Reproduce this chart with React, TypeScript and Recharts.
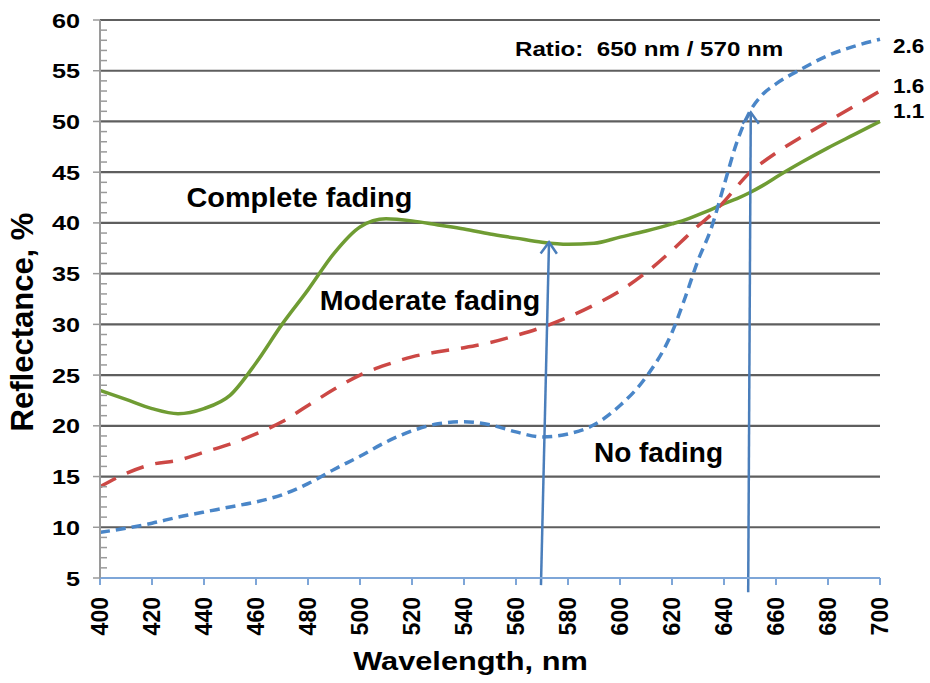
import { CartesianGrid, Label, Line, LineChart, ReferenceDot, ReferenceLine, XAxis, YAxis } from 'recharts'

const FONT = '"Liberation Sans", Arial, sans-serif'

const wavelengths = [400, 410, 420, 430, 440, 450, 460, 470, 480, 490, 500, 510, 520, 530, 540, 550, 560, 570, 580, 590, 600, 610, 620, 625, 630, 635, 640, 645, 650, 655, 660, 670, 680, 690, 700]
const completeFading = [23.5, 22.6, 21.7, 21.2, 21.7, 23.0, 26.2, 30.0, 33.4, 37.0, 39.6, 40.4, 40.2, 39.8, 39.4, 38.9, 38.5, 38.1, 37.9, 38.0, 38.6, 39.2, 39.9, 40.3, 40.8, 41.3, 41.9, 42.4, 43.0, 43.7, 44.5, 46.0, 47.4, 48.7, 50.0]
const moderateFading = [14.0, 15.3, 16.2, 16.6, 17.4, 18.2, 19.2, 20.4, 22.0, 23.6, 25.0, 26.0, 26.8, 27.3, 27.7, 28.2, 28.9, 29.7, 30.7, 31.9, 33.3, 35.1, 37.3, 38.5, 39.7, 40.8, 42.1, 43.6, 45.0, 46.0, 46.9, 48.5, 50.0, 51.5, 53.0]
const noFading = [9.5, 9.9, 10.4, 11.0, 11.5, 12.0, 12.5, 13.2, 14.3, 15.7, 17.0, 18.4, 19.5, 20.2, 20.4, 20.1, 19.4, 18.9, 19.2, 20.1, 22.0, 24.8, 29.2, 32.6, 36.3, 39.4, 43.7, 48.0, 51.0, 52.7, 53.7, 55.2, 56.5, 57.4, 58.1]

const xTicks = [400, 420, 440, 460, 480, 500, 520, 540, 560, 580, 600, 620, 640, 660, 680, 700]
const yAllTicks = Array.from({ length: 56 }, (_, i) => 5 + i)

// ratio arrows: [bottom, tip] in data units
const arrow570 = [{ x: 569.6, y: 4.3 }, { x: 572.7, y: 38.1 }]
const arrow650 = [{ x: 649.3, y: 3.6 }, { x: 650.3, y: 50.9 }]

// in-plot notes, anchored at baseline centre
const notes = [
  { text: 'Complete fading', x: 476.7, y: 41.55, size: 28, sx: 1.03 },
  { text: 'Moderate fading', x: 526.9, y: 31.4, size: 28, sx: 1.02 },
  { text: 'No fading', x: 614.8, y: 16.45, size: 28, sx: 1.0 },
  { text: 'Ratio:  650 nm / 570 nm', x: 611.2, y: 56.5, size: 21, sx: 1.15 },
]
const ratioLabels = [
  { text: '2.6', y: 56.7 },
  { text: '1.6', y: 52.8 },
  { text: '1.1', y: 50.3 },
]

const rows = wavelengths.map((wl, i) => ({ wl, complete: completeFading[i], moderate: moderateFading[i], none: noFading[i] }))

const ARROW = '#4a7ebb'
const AXIS_GRAY = '#9a9a9a'

function SText({ x, y, text, size, sx = 1, anchor = 'middle', dy }: { x: number; y: number; text: string | number; size: number; sx?: number; anchor?: string; dy?: string }) {
  return (
    <text
      transform={`translate(${x},${y}) scale(${sx},1)`}
      textAnchor={anchor as any}
      dy={dy}
      fontSize={size}
      fontWeight={700}
      fontFamily={FONT}
      fill="#000"
      style={{ whiteSpace: 'pre' }}
    >
      {text}
    </text>
  )
}

function ArrowShape(props: any) {
  const { x1, y1, x2, y2 } = props
  const ang = Math.atan2(y2 - y1, x2 - x1)
  const len = 14
  const spread = 0.62
  const ax = x2 - len * Math.cos(ang - spread)
  const ay = y2 - len * Math.sin(ang - spread)
  const bx = x2 - len * Math.cos(ang + spread)
  const by = y2 - len * Math.sin(ang + spread)
  return (
    <g>
      <line x1={x1} y1={y1} x2={x2} y2={y2} stroke={ARROW} strokeWidth={2.5} />
      <polyline points={`${ax},${ay} ${x2},${y2} ${bx},${by}`} fill="none" stroke={ARROW} strokeWidth={2.5} />
    </g>
  )
}

function XTick({ x, y, payload }: any) {
  return (
    <g transform={`translate(${x},${y})`}>
      <text transform="rotate(-90)" textAnchor="end" dy="0.36em" fontSize={23} fontWeight={700} fontFamily={FONT} fill="#000">
        {payload.value}
      </text>
    </g>
  )
}

// every integer gets a tick: majors point outwards with a label, minors point into the plot
function YTick({ x, y, payload }: any) {
  const major = payload.value % 5 === 0
  if (!major) return <line x1={x} x2={x + 7} y1={y} y2={y} stroke={AXIS_GRAY} strokeWidth={1.5} />
  return (
    <g>
      <line x1={x - 7} x2={x} y1={y} y2={y} stroke={AXIS_GRAY} strokeWidth={1.5} />
      <SText x={x - 20} y={y} text={payload.value} size={21} sx={1.2} anchor="end" dy="0.36em" />
    </g>
  )
}

// grid only on the labelled (every 5th) ticks
function GridLine(p: any) {
  if (typeof p.index === 'number' && p.index % 5 !== 0) return <g />
  return <line x1={p.x1} x2={p.x2} y1={p.y1} y2={p.y2} stroke="#5e5e5e" strokeWidth={2.2} />
}

export default function App() {
  return (
    <div style={{ position: 'absolute', left: 0, top: 0, background: '#fff' }}>
      <LineChart width={930} height={683} data={rows} margin={{ top: 20, right: 50, bottom: 0, left: 0 }}>
        <CartesianGrid vertical={false} horizontal={GridLine} />
        <XAxis
          dataKey="wl"
          type="number"
          domain={[400, 700]}
          ticks={xTicks}
          interval={0}
          height={105}
          axisLine={{ stroke: '#7ea6d8', strokeWidth: 2 }}
          tickLine={{ stroke: '#7ea6d8', strokeWidth: 2 }}
          tickSize={7}
          tickMargin={12}
          tick={<XTick />}
        >
          <Label
            content={({ viewBox }: any) => (
              <SText x={viewBox.x + viewBox.width / 2 - 19.5} y={viewBox.y + 92} text="Wavelength, nm" size={25} sx={1.23} />
            )}
          />
        </XAxis>
        <YAxis
          type="number"
          domain={[5, 60]}
          ticks={yAllTicks}
          interval={0}
          width={100}
          axisLine={{ stroke: AXIS_GRAY, strokeWidth: 2 }}
          tickLine={false}
          tickSize={0}
          tickMargin={0}
          tick={<YTick />}
        >
          <Label
            content={({ viewBox }: any) => {
              const cx = viewBox.x + 22
              const cy = viewBox.y + viewBox.height / 2 + 23
              return (
                <text x={cx} y={cy} transform={`rotate(-90, ${cx}, ${cy})`} textAnchor="middle" dy="0.36em" fontSize={31} fontWeight={700} fontFamily={FONT} fill="#000">
                  Reflectance, %
                </text>
              )
            }}
          />
        </YAxis>
        <Line type="monotone" dataKey="complete" stroke="#6f9c33" strokeWidth={3.5} dot={false} isAnimationActive={false} />
        <Line type="monotone" dataKey="moderate" stroke="#cc4845" strokeWidth={3.5} strokeDasharray="18 12" dot={false} isAnimationActive={false} />
        <Line type="monotone" dataKey="none" stroke="#4a86c8" strokeWidth={3.5} strokeDasharray="10 6" dot={false} isAnimationActive={false} />
        <ReferenceLine segment={arrow570} ifOverflow="visible" shape={ArrowShape} />
        <ReferenceLine segment={arrow650} ifOverflow="visible" shape={ArrowShape} />
        {notes.map(n => (
          <ReferenceDot key={n.text} x={n.x} y={n.y} r={0} ifOverflow="visible" stroke="none">
            <Label content={({ viewBox }: any) => <SText x={viewBox.x} y={viewBox.y} text={n.text} size={n.size} sx={n.sx} />} />
          </ReferenceDot>
        ))}
        {ratioLabels.map(r => (
          <ReferenceDot key={r.text} x={700} y={r.y} r={0} ifOverflow="visible" stroke="none">
            <Label content={({ viewBox }: any) => <SText x={viewBox.x + 13} y={viewBox.y} text={r.text} size={21} sx={1.07} anchor="start" />} />
          </ReferenceDot>
        ))}
      </LineChart>
    </div>
  )
}
